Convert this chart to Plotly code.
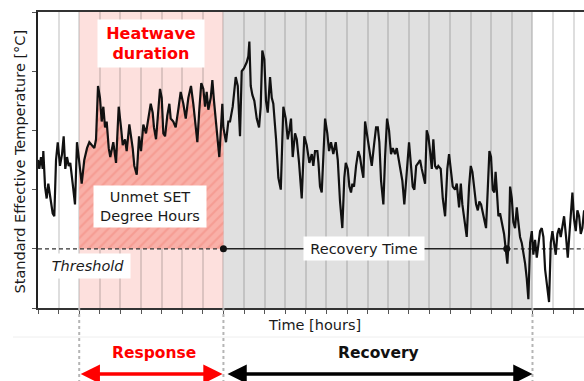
import numpy as np
import plotly.graph_objects as go

# ---------------- data ----------------
hours = [0, 1.5, 3.5, 5.5, 6.2, 8.2, 10.1, 12.0, 14.0, 17.1, 19.0, 21.0, 23.0, 25.6, 28.0, 29.9,
         31.8, 33.8, 35.8, 37.6, 40.4, 43.1, 45.4, 47.4, 49.3, 50.9, 53.9, 57.1, 59.8, 62.9, 65.6,
         67.6, 69.9, 72.2, 74.2, 76.1, 78.1, 80.0, 82.4, 84.2, 87.7, 90.9, 94.0, 96.7, 98.7, 101.4,
         103.3, 106.4, 110.3, 112.2, 115.0, 117.7, 120.0, 122.7, 125.8, 128.5, 131.3, 133.6, 135.1,
         137.5, 139.8, 142.1, 144.1, 146.0, 148.0, 150.6, 153.0, 154.6, 157.6, 160.4, 163.4, 166.2,
         169.3, 172.1, 175.1, 178.2, 180.9, 182.9, 185.6, 187.9, 190.2, 192.6, 194.6, 196.5, 198.4,
         201.2, 203.1, 205.0, 207.4, 208.9, 211.2, 213.2, 214.7, 215.9, 219.0, 221.7, 223.7, 226.8,
         230.3, 232.7, 235.3, 237.3, 240.0, 243.1, 245.0, 246.2, 247.8, 249.7, 252.0, 254.8, 257.5,
         259.4, 261.3, 263.6, 265.6, 267.6, 270.3, 272.3, 274.1, 277.3, 280.0, 282.8, 285.8, 288.6,
         290.9, 292.8, 294.7, 296.7, 299.4, 301.4, 304.1, 307.2, 310.2, 313.0, 316.1, 318.9, 320.7,
         322.7, 325.4, 326.7, 328.5, 330.5, 332.4, 334.4, 337.0, 339.0, 341.3, 344.0, 346.8, 349.2,
         351.8, 354.5, 356.8, 358.5, 360.8, 362.7, 364.6, 366.2, 368.1, 370.5, 373.1, 375.1, 377.1,
         379.0, 381.0, 382.9, 384.8, 386.8, 388.8, 391.4, 393.8, 395.8, 397.6, 399.6, 402.3, 404.3,
         406.6, 408.9, 411.2, 413.2, 415.9, 417.9, 419.7, 422.1, 424.4, 426.7, 429.5, 432.2, 434.5,
         436.5, 438.4, 440.5, 443.0, 445.0, 447.0, 450.9, 452.8, 454.7, 456.7, 458.7, 460.5, 462.5,
         464.5, 466.3, 469.1, 471.5, 474.2, 476.8, 478.8, 480.8, 483.1, 485.8, 487.8, 490.5, 492.5,
         494.3, 496.6, 499.4, 502.1, 504.1, 506.0, 507.9, 510.3, 512.3, 514.1, 516.1, 518.1, 519.9,
         521.9, 523.9, 525.8, 527.7, 529.7, 531.6, 533.0, 534.4, 536.3, 538.2, 540.2, 542.9, 545.2,
         546.7, 548.7, 549.9, 551.9, 553.7, 555.7, 557.7, 559.5, 561.5, 563.5, 565.4, 567.4, 569.3,
         571.2, 573.2, 575.2, 577.0, 579.0, 581.0, 582.8, 584.8, 586.8, 588.7, 590.7, 593.3, 595.3,
         597.3, 599.2, 601.1, 603.1, 605.0, 607.0, 608.9, 610.8, 612.8, 615.1, 617.1, 619.0, 620.9,
         622.5, 624.4, 626.4, 628.3, 630.3, 632.2, 634.1, 636.1]

set_temp = [33.0, 32.7, 33.1, 32.7, 33.3, 32.1, 31.7, 32.2, 31.8, 31.2, 31.1, 33.0, 33.6, 32.8, 33.2, 33.8,
            32.7, 33.1, 32.8, 32.9, 32.2, 31.5, 33.6, 33.1, 32.6, 32.2, 33.0, 33.4, 33.6, 33.5, 33.4,
            33.7, 35.5, 35.1, 34.3, 34.8, 34.1, 34.3, 33.4, 33.1, 33.6, 32.9, 34.8, 34.1, 33.5, 33.7,
            33.3, 34.2, 33.4, 32.8, 32.5, 33.8, 33.3, 34.2, 33.9, 34.4, 34.9, 34.6, 34.1,
            33.7, 34.6, 35.4, 35.1, 33.9, 33.8, 34.5, 34.9, 34.4, 34.3, 34.1, 34.7, 35.3,
            34.9, 34.4, 35.1, 35.5, 34.9, 34.3, 33.6, 34.7, 35.6, 35.4, 34.8, 35.3, 34.7,
            35.1, 35.7, 35.0, 34.1, 33.8, 33.1, 34.0, 34.9, 34.1, 33.6, 34.3, 34.3, 34.8,
            35.8, 35.5, 33.8, 36.0, 36.1, 36.3, 36.5, 37.0, 35.5, 35.2, 35.0, 34.4, 34.1,
            34.8, 36.7, 36.4, 35.0, 34.6, 35.8, 35.1, 34.9, 33.7, 32.4, 32.0, 34.8, 34.4,
            33.7, 34.0, 34.4, 33.1, 33.9, 33.7, 32.9, 31.7, 33.8, 33.5, 32.9, 33.2, 32.8,
            33.3, 33.3, 32.9, 32.1, 31.9, 33.1, 34.4, 33.9, 33.3, 33.6, 33.2, 33.6, 33.0,
            31.6, 30.7, 32.4, 32.9, 32.7, 32.1, 31.9, 32.2, 32.1, 32.8, 33.3, 33.1, 32.7,
            32.4, 34.3, 33.9, 33.6, 33.1, 32.8, 33.5, 34.1, 34.1, 33.6, 32.3, 31.5, 33.1,
            34.4, 34.0, 33.2, 33.4, 33.2, 33.4, 33.1, 32.8, 32.3, 31.5, 32.5, 33.6, 32.8,
            32.1, 32.0, 32.8, 32.9, 33.0, 32.7, 32.2, 34.0, 33.8, 33.3, 32.7, 33.7, 32.8,
            32.7, 32.8, 32.7, 31.7, 31.1, 32.7, 33.2, 32.7, 32.1, 32.0, 32.2, 31.4, 32.2,
            31.5, 30.9, 30.4, 32.1, 32.8, 32.6, 32.0, 31.5, 31.3, 31.6, 31.5, 31.2, 30.9,
            30.7, 32.0, 33.3, 33.1, 32.0, 31.9, 32.6, 32.0, 31.1, 31.2, 30.9, 30.5, 29.9,
            29.5, 30.5, 32.1, 31.7, 30.9, 30.7, 31.4, 30.9, 30.4, 30.2, 29.9, 29.5, 29.0,
            28.3, 30.2, 30.6, 29.8, 30.3, 29.7, 30.2, 30.6, 30.7, 30.4, 29.3, 28.6, 28.2,
            30.2, 30.6, 30.2, 29.8, 30.5, 30.7, 30.4, 30.7, 31.1, 30.4, 29.7, 30.5, 31.5,
            31.9, 31.0, 30.6, 31.3, 31.1, 30.5, 30.7, 31.3]

threshold = 30.0
heatwave_start = 48
heatwave_end = 216
recovery_end = 546
recovery_window_end = 576
x_max = 636
y_range = [28, 38]

FONT = "DejaVu Sans"
RED = "#ff0000"
TXT = "#1a1a1a"

# ---------------- figure ----------------
fig = go.Figure()

h = np.array(hours)
v = np.array(set_temp)
mask = (h > heatwave_start) & (h < heatwave_end)
fx = np.concatenate([[heatwave_start], h[mask], [heatwave_end]])
fy = np.concatenate([[np.interp(heatwave_start, h, v)], v[mask], [np.interp(heatwave_end, h, v)]])

# hatched "unmet degree hours" area
fig.add_trace(go.Scatter(x=fx, y=[threshold] * len(fx), mode="lines",
                         line=dict(width=0), hoverinfo="skip", showlegend=False))
fig.add_trace(go.Scatter(x=fx, y=fy, mode="lines", line=dict(width=0), fill="tonexty",
                         fillcolor="#f9b0a8",
                         fillpattern=dict(shape="/", fgcolor="#f2877d", bgcolor="#f9b0a8",
                                          size=7, solidity=0.3),
                         hoverinfo="skip", showlegend=False))

# threshold lines
fig.add_trace(go.Scatter(x=[0, heatwave_end], y=[threshold, threshold], mode="lines",
                         line=dict(color="#333333", width=1.3, dash="4px,3px"), showlegend=False))
fig.add_trace(go.Scatter(x=[recovery_end, x_max], y=[threshold, threshold], mode="lines",
                         line=dict(color="#333333", width=1.3, dash="4px,3px"), showlegend=False))
fig.add_trace(go.Scatter(x=[heatwave_end, recovery_end], y=[threshold, threshold], mode="lines",
                         line=dict(color="#222222", width=1.6), showlegend=False))

# SET curve
fig.add_trace(go.Scatter(x=hours, y=set_temp, mode="lines",
                         line=dict(color="#111111", width=2.2), showlegend=False))

# recovery markers
fig.add_trace(go.Scatter(x=[heatwave_end, recovery_end], y=[threshold, threshold], mode="markers",
                         marker=dict(color="#111111", size=7), showlegend=False))

# background regions
fig.add_shape(type="rect", xref="x", yref="paper", x0=heatwave_start, x1=heatwave_end, y0=0, y1=1,
              fillcolor="#fde0dd", line=dict(width=0), layer="below")
fig.add_shape(type="rect", xref="x", yref="paper", x0=heatwave_end, x1=recovery_window_end, y0=0, y1=1,
              fillcolor="#e0e0e0", line=dict(width=0), layer="below")

# below-axis decorations (paper coordinates)
plot_w = 546.0
plot_h = 296.0
ppx = plot_w / x_max  # pixels per hour
for xv in [heatwave_start, heatwave_end, recovery_window_end]:
    fig.add_shape(type="line", xref="paper", yref="paper", x0=xv / x_max, x1=xv / x_max,
                  y0=0, y1=-73 / plot_h, line=dict(color="#b5b5b5", width=2, dash="dot"))
fig.add_shape(type="line", xref="paper", yref="paper", x0=-25 / plot_w, x1=1,
              y0=-29 / plot_h, y1=-29 / plot_h, line=dict(color="#eeeeee", width=1))

ann = []
ann.append(dict(x=132, y=36.95, xref="x", yref="y",
                text="<b>Heatwave<br>duration</b>", showarrow=False,
                font=dict(family=FONT, size=16, color=RED), bgcolor="white",
                width=100, height=41, borderpad=3, yanchor="middle"))
ann.append(dict(x=130.5, y=31.44, xref="x", yref="y",
                text="Unmet SET<br>Degree Hours", showarrow=False,
                font=dict(family=FONT, size=14.5, color=TXT), bgcolor="white",
                width=108, height=37, borderpad=2, yanchor="middle"))
ann.append(dict(x=58, y=29.42, xref="x", yref="y", text="<i>Threshold</i>", showarrow=False,
                font=dict(family=FONT, size=14.5, color=TXT), bgcolor="white",
                width=80, height=20, borderpad=2, yanchor="middle"))
ann.append(dict(x=380, y=threshold, xref="x", yref="y", text="Recovery Time", showarrow=False,
                font=dict(family=FONT, size=14.5, color=TXT), bgcolor="white",
                width=116, height=19, borderpad=2, yanchor="middle"))
ann.append(dict(x=322, y=-17 / plot_h, xref="x", yref="paper", text="Time [hours]",
                showarrow=False, yanchor="middle",
                font=dict(family=FONT, size=14.5, color=TXT)))
ann.append(dict(x=-18 / plot_w, y=0.495, xref="paper", yref="paper",
                text="Standard Effective Temperature [°C]", textangle=-90, showarrow=False,
                xanchor="center", yanchor="middle",
                font=dict(family=FONT, size=14.5, color=TXT)))
ann.append(dict(x=135, y=-45 / plot_h, xref="x", yref="paper",
                text="<b>Response</b>", showarrow=False, yanchor="middle",
                font=dict(family=FONT, size=15.5, color=RED)))
ann.append(dict(x=397, y=-45 / plot_h, xref="x", yref="paper",
                text="<b>Recovery</b>", showarrow=False, yanchor="middle",
                font=dict(family=FONT, size=15.5, color="#111111")))
# double-headed arrows
ann.append(dict(x=heatwave_end - 1, y=-66 / plot_h, xref="x", yref="paper",
                ax=-(heatwave_end - heatwave_start - 1) * ppx, ay=0, axref="pixel", ayref="pixel",
                text="", showarrow=True, arrowhead=2, arrowside="end+start", arrowsize=1.1,
                arrowwidth=3.5, arrowcolor=RED))
ann.append(dict(x=recovery_window_end, y=-66 / plot_h, xref="x", yref="paper",
                ax=-(recovery_window_end - heatwave_end - 3) * ppx, ay=0, axref="pixel", ayref="pixel",
                text="", showarrow=True, arrowhead=2, arrowside="end+start", arrowsize=1.1,
                arrowwidth=3.5, arrowcolor="#000000"))

fig.update_layout(
    width=584, height=381,
    margin=dict(l=38, r=0, t=12, b=73),
    paper_bgcolor="white", plot_bgcolor="white",
    showlegend=False,
    annotations=ann,
    xaxis=dict(range=[0, x_max], dtick=24, tick0=0, showgrid=True,
               gridcolor="rgba(0,0,0,0.13)", gridwidth=1.5, zeroline=False,
               showline=True, linecolor="#333333", linewidth=1.5, mirror=True,
               ticks="outside", ticklen=4, tickcolor="#555555", showticklabels=False),
    yaxis=dict(range=y_range, dtick=2, showgrid=False, zeroline=False,
               showline=True, linecolor="#222222", linewidth=1.5,
               ticks="outside", ticklen=4, tickcolor="#555555", showticklabels=False),
)

fig.write_html("out.html")
